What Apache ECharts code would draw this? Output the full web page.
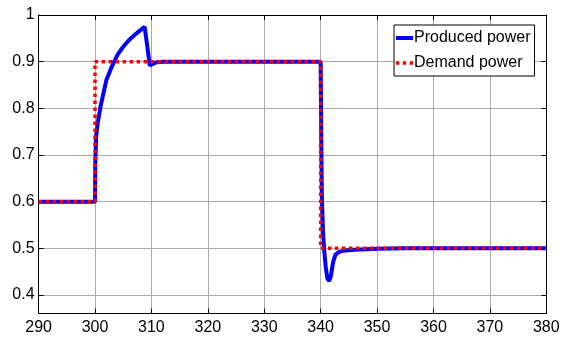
<!DOCTYPE html>
<html><head><meta charset="utf-8">
<script src="https://cdn.jsdelivr.net/npm/echarts@6/dist/echarts.min.js"></script>
<style>html,body{margin:0;padding:0;background:#fff}#c{width:568px;height:338px}</style>
</head><body><div id="c"></div>
<script>
const xTicks = [290,300,310,320,330,340,350,360,370,380];
const yTicks = [0.4,0.5,0.6,0.7,0.8,0.9,1];
const producedTime  = [290,300,300.05,300.2,300.5,301,302,303,304,305,306,307,308,308.8,309.3,309.7,310.2,311,312,320,330,340,340.1,340.2,340.4,340.6,340.9,341.2,341.5,341.8,342.2,342.6,343.2,344,346,350,355,380];
const producedValue = [0.6,0.6,0.68,0.74,0.77,0.805,0.86,0.89,0.915,0.932,0.946,0.957,0.967,0.975,0.93,0.892,0.895,0.899,0.9,0.9,0.9,0.9,0.75,0.62,0.54,0.5,0.46,0.435,0.43,0.44,0.47,0.486,0.492,0.495,0.497,0.499,0.5,0.5];
const demandTime  = [290,300,300,340,340,380];
const demandValue = [0.6,0.6,0.9,0.9,0.5,0.5];

const produced = producedTime.map((t,i)=>[t,producedValue[i]]);
const demand = demandTime.map((t,i)=>[t,demandValue[i]]);
const font = 'Liberation Sans, Arial, sans-serif';
const chart = echarts.init(document.getElementById('c'));
const axisBase = {
  axisLine:{show:true,lineStyle:{color:'#000',width:1}},
  axisTick:{show:true,inside:true,length:5,lineStyle:{color:'#000'}},
};
chart.setOption({
  animation:false,
  backgroundColor:'#fff',
  grid:{left:38.6,right:21.7,top:15,bottom:24.3,containLabel:false},
  xAxis:[
    Object.assign({type:'value',min:290,max:380,interval:10,position:'bottom',
      axisLabel:{color:'#000',fontSize:16,fontFamily:font,margin:6},
      splitLine:{show:true,lineStyle:{color:'#aaaaaa',width:1}}},axisBase),
    Object.assign({type:'value',min:290,max:380,interval:10,position:'top',
      axisLabel:{show:false},splitLine:{show:false}},axisBase)
  ],
  yAxis:[
    Object.assign({type:'value',min:0.36,max:1,splitNumber:6,position:'left',
      axisLabel:{color:'#000',fontSize:16,fontFamily:font,margin:4,showMinLabel:false,
        formatter:v=>{const r=Math.round(v*10)/10; return yTicks.includes(r)&&Math.abs(v-r)<1e-6?String(r):'';}},
      splitLine:{show:true,lineStyle:{color:'#aaaaaa',width:1}}},axisBase),
    Object.assign({type:'value',min:0.36,max:1,splitNumber:6,position:'right',
      axisLabel:{show:false},splitLine:{show:false}},axisBase)
  ],
  legend:{
    show:true,orient:'vertical',left:394,top:25,
    backgroundColor:'#fff',borderColor:'#000',borderWidth:1,
    padding:[5,4,5,2],itemGap:9,itemWidth:17,itemHeight:4,
    textStyle:{color:'#000',fontSize:16,fontFamily:font,padding:[0,0,0,-4]},
    data:[
      {name:'Produced power',icon:'rect',itemStyle:{color:'#0000ff',borderWidth:0}},
      {name:'Demand power',icon:'path://M0,0h2v2h-2zM4,0h2v2h-2zM8,0h2v2h-2z',itemStyle:{color:'#ff0000',borderWidth:0}}
    ]
  },
  series:[
    {name:'Produced power',type:'line',data:produced,symbol:'none',
      lineStyle:{color:'#0000ff',width:4},itemStyle:{color:'#0000ff'}},
    {name:'Demand power',type:'line',data:demand,symbol:'none',
      lineStyle:{color:'#ff0000',width:3.5,type:[3.5,3.5]},itemStyle:{color:'#ff0000'}}
  ]
});
</script></body></html>
